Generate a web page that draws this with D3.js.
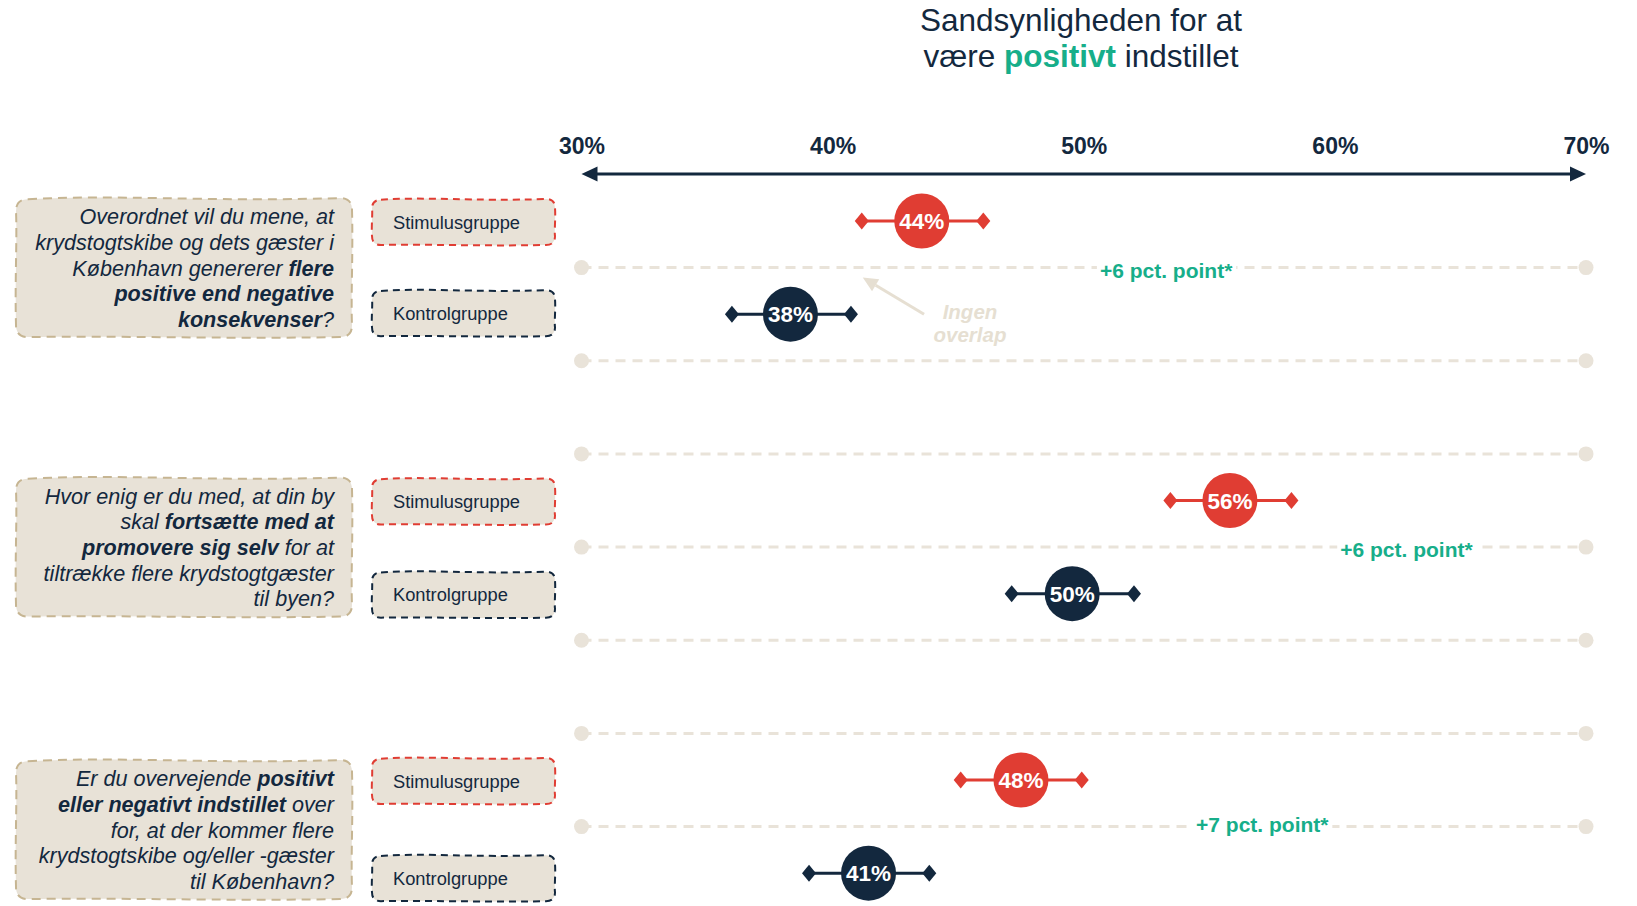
<!DOCTYPE html>
<html>
<head>
<meta charset="utf-8">
<script src="https://cdn.jsdelivr.net/npm/d3@7"></script>
<style>
  html, body { margin: 0; padding: 0; background: #ffffff; }
  svg { display: block; font-family: "Liberation Sans", Arial, sans-serif; }
  text { white-space: pre; }
</style>
</head>
<body>
<svg id="chart" width="1637" height="906"></svg>
<script>
// ---------------- data ----------------
const tickValues = [30, 40, 50, 60, 70];
const tickLabels = ["30%", "40%", "50%", "60%", "70%"];

const groupNames = ["Stimulusgruppe", "Kontrolgruppe"];

const stimValues = [43.55, 55.82, 47.5];
const stimLow    = [41.16, 53.45, 45.1];
const stimHigh   = [46.0, 58.27, 49.92];
const stimLabels = ["44%", "56%", "48%"];

const ctrlValues = [38.32, 49.54, 41.43];
const ctrlLow    = [35.99, 47.13, 39.06];
const ctrlHigh   = [40.73, 52.0, 43.85];
const ctrlLabels = ["38%", "50%", "41%"];

const diffLabels = ["+6 pct. point*", "+6 pct. point*", "+7 pct. point*"];
const diffPos    = [53.28, 62.85, 57.11];

const question1 = [
  [["Overordnet vil du mene, at", false]],
  [["krydstogtskibe og dets gæster i", false]],
  [["København genererer ", false], ["flere", true]],
  [["positive end negative", true]],
  [["konsekvenser", true], ["?", false]]
];
const question2 = [
  [["Hvor enig er du med, at din by", false]],
  [["skal ", false], ["fortsætte med at", true]],
  [["promovere sig selv", true], [" for at", false]],
  [["tiltrække flere krydstogtgæster", false]],
  [["til byen?", false]]
];
const question3 = [
  [["Er du overvejende ", false], ["positivt", true]],
  [["eller negativt indstillet", true], [" over", false]],
  [["for, at der kommer flere", false]],
  [["krydstogtskibe og/eller -gæster", false]],
  [["til København?", false]]
];
const questions = [question1, question2, question3];

const overlapNote = ["Ingen", "overlap"];

// ---------------- styles / layout ----------------
const NAVY = "#13283e";
const RED = "#e03d33";
const GREEN = "#17ae8a";
const BEIGE = "#e8e2d7";
const LINE_BEIGE = "#e9e3d9";
const TAN = "#c6b592";
const NOTE = "#e6dfd2";
const diffDy = [10, 10, 5];

const svg = d3.select("#chart");

const x = d3.scaleLinear().domain([30, 70]).range([581.5, 1586]);
// slot scale: each group spans 6 slots; stimulus at slot 0, control at slot 2
const y = d3.scaleLinear().domain([0, 12]).range([221, 780]);
const rowY = (g, k) => y(g * 6 + k * 2);

// ---------------- title ----------------
const title = svg.append("g").attr("fill", NAVY).attr("font-size", 31.5).attr("text-anchor", "middle");
title.append("text").attr("x", 1081).attr("y", 31).text("Sandsynligheden for at");
const t2 = title.append("text").attr("x", 1081).attr("y", 67);
t2.append("tspan").text("være ");
t2.append("tspan").attr("font-weight", "bold").attr("fill", GREEN).text("positivt");
t2.append("tspan").text(" indstillet");

// ---------------- axis ----------------
const axisY = 174;
const axis = d3.axisTop(x)
  .tickValues(tickValues)
  .tickSize(0)
  .tickPadding(20)
  .tickFormat((d, i) => tickLabels[i]);
const axG = svg.append("g").attr("transform", `translate(0,${axisY})`).call(axis);
axG.select(".domain").remove();
axG.selectAll("text")
  .attr("font-family", "'Liberation Sans', Arial, sans-serif")
  .attr("font-size", 23).attr("font-weight", "bold").attr("fill", NAVY);

svg.append("line")
  .attr("x1", x(30) + 10).attr("x2", x(70) - 10)
  .attr("y1", axisY).attr("y2", axisY)
  .attr("stroke", NAVY).attr("stroke-width", 3);
const ah = 16, aw = 7.5;
svg.append("path")
  .attr("d", `M${x(30)},${axisY} L${x(30) + ah},${axisY - aw} L${x(30) + ah},${axisY + aw} Z`)
  .attr("fill", NAVY);
svg.append("path")
  .attr("d", `M${x(70)},${axisY} L${x(70) - ah},${axisY - aw} L${x(70) - ah},${axisY + aw} Z`)
  .attr("fill", NAVY);

// ---------------- dashed separators ----------------
const sepSlots = [];
questions.forEach((q, g) => {
  if (g > 0) sepSlots.push(g * 6 - 1);
  sepSlots.push(g * 6 + 1);
  sepSlots.push(g * 6 + 3);
});
const sepG = svg.append("g");
sepSlots.forEach(s => {
  sepG.append("line")
    .attr("x1", x(30)).attr("x2", x(70))
    .attr("y1", y(s)).attr("y2", y(s))
    .attr("stroke", LINE_BEIGE).attr("stroke-width", 3)
    .attr("stroke-dasharray", "10,7");
  [30, 70].forEach(v => sepG.append("circle")
    .attr("cx", x(v)).attr("cy", y(s)).attr("r", 7.5).attr("fill", LINE_BEIGE));
});

// ---------------- wobbly box helper ----------------
function wobbly(x0, y0, w, h, r, a) {
  return `M${x0 + r},${y0 + a * 0.3}
    C${x0 + w * 0.3},${y0 - a} ${x0 + w * 0.55},${y0 + a} ${x0 + w - r},${y0}
    Q${x0 + w},${y0} ${x0 + w},${y0 + r}
    C${x0 + w + a * 0.3},${y0 + h * 0.4} ${x0 + w - a * 0.3},${y0 + h * 0.7} ${x0 + w},${y0 + h - r}
    Q${x0 + w},${y0 + h} ${x0 + w - r},${y0 + h}
    C${x0 + w * 0.6},${y0 + h + a * 0.5} ${x0 + w * 0.3},${y0 + h - a * 0.4} ${x0 + r},${y0 + h}
    Q${x0},${y0 + h} ${x0},${y0 + h - r}
    C${x0 - a * 0.3},${y0 + h * 0.6} ${x0 + a * 0.3},${y0 + h * 0.3} ${x0},${y0 + a * 0.3 + r}
    Q${x0},${y0 + a * 0.3} ${x0 + r},${y0 + a * 0.3} Z`;
}

// ---------------- question boxes ----------------
questions.forEach((q, g) => {
  const cy = y(g * 6 + 1) + (g === 2 ? 3 : 0);
  const bx = 16, bw = 336, bh = 139;
  svg.append("path")
    .attr("d", wobbly(bx, cy - bh / 2, bw, bh, 12, 4))
    .attr("fill", BEIGE).attr("stroke", TAN).attr("stroke-width", 2)
    .attr("stroke-dasharray", "9,6");
  const lh = 25.6;
  q.forEach((line, i) => {
    const t = svg.append("text")
      .attr("x", 334)
      .attr("y", cy + (i - (q.length - 1) / 2) * lh + 8)
      .attr("text-anchor", "end")
      .attr("font-size", 21.6).attr("font-style", "italic").attr("fill", NAVY);
    line.forEach(([txt, bold]) => t.append("tspan").attr("font-weight", bold ? "bold" : "normal").text(txt));
  });

  // group labels
  [0, 1].forEach(k => {
    const ry = rowY(g, k) + (g === 2 && k === 1 ? 5 : (g === 0 && k === 1 ? -1 : 1));
    svg.append("path")
      .attr("d", wobbly(372, ry - 23, 183, 46, 9, 2.5))
      .attr("fill", BEIGE).attr("stroke", k === 0 ? RED : NAVY).attr("stroke-width", 2)
      .attr("stroke-dasharray", "7,5");
    svg.append("text").attr("x", 393).attr("y", ry + 6.5)
      .attr("font-size", 18.3).attr("fill", NAVY).text(groupNames[k]);
  });
});

// ---------------- estimates with intervals ----------------
function drawEstimate(g, k, val, lo, hi, label, color) {
  const cy = rowY(g, k);
  const grp = svg.append("g");
  grp.append("line").attr("x1", x(lo)).attr("x2", x(hi)).attr("y1", cy).attr("y2", cy)
    .attr("stroke", color).attr("stroke-width", 3);
  [lo, hi].forEach(v => grp.append("path")
    .attr("d", `M${x(v) - 7},${cy} L${x(v)},${cy - 8.5} L${x(v) + 7},${cy} L${x(v)},${cy + 8.5} Z`)
    .attr("fill", color));
  grp.append("circle").attr("cx", x(val)).attr("cy", cy).attr("r", 27.5).attr("fill", color);
  grp.append("text").attr("x", x(val)).attr("y", cy + 8)
    .attr("text-anchor", "middle").attr("font-size", 22.5).attr("font-weight", "bold")
    .attr("fill", "#ffffff").text(label);
}
questions.forEach((q, g) => {
  drawEstimate(g, 0, stimValues[g], stimLow[g], stimHigh[g], stimLabels[g], RED);
  drawEstimate(g, 1, ctrlValues[g], ctrlLow[g], ctrlHigh[g], ctrlLabels[g], NAVY);
});

// ---------------- difference labels ----------------
questions.forEach((q, g) => {
  const ly = y(g * 6 + 1);
  const t = svg.append("text").attr("x", x(diffPos[g])).attr("y", ly + diffDy[g])
    .attr("text-anchor", "middle").attr("font-size", 21).attr("font-weight", "bold")
    .attr("fill", GREEN).text(diffLabels[g]);
  const bb = t.node().getBBox();
  svg.insert("rect", () => t.node())
    .attr("x", bb.x - 3).attr("y", ly - 4).attr("width", bb.width + 6).attr("height", 8)
    .attr("fill", "#ffffff");
});

// ---------------- "Ingen overlap" note ----------------
const noteG = svg.append("g");
const tipX = x(41.2), tipY = y(1) + 10;
const tailX = x(43.64), tailY = rowY(0, 1);
const ang = Math.atan2(tipY - tailY, tipX - tailX);
const hl = 15, hw = 7;
const baseX = tipX - hl * Math.cos(ang), baseY = tipY - hl * Math.sin(ang);
noteG.append("line").attr("x1", tailX).attr("y1", tailY).attr("x2", baseX).attr("y2", baseY)
  .attr("stroke", NOTE).attr("stroke-width", 3);
noteG.append("path")
  .attr("d", `M${tipX},${tipY} L${baseX + hw * Math.sin(ang)},${baseY - hw * Math.cos(ang)} L${baseX - hw * Math.sin(ang)},${baseY + hw * Math.cos(ang)} Z`)
  .attr("fill", NOTE);
overlapNote.forEach((s, i) => noteG.append("text")
  .attr("x", x(45.47)).attr("y", 319 + i * 23)
  .attr("text-anchor", "middle").attr("font-size", 20.5).attr("font-weight", "bold")
  .attr("font-style", "italic").attr("fill", NOTE).text(s));
</script>
</body>
</html>
